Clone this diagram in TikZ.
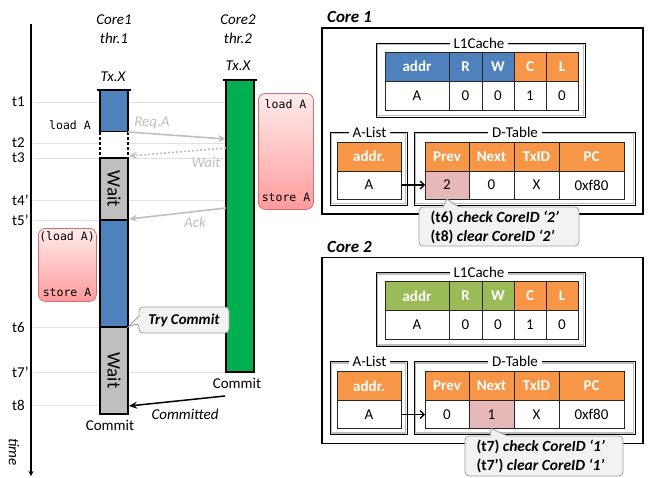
\documentclass[tikz,border=0pt]{standalone}
\usepackage{fontspec}
\setmainfont{Carlito}
\newfontfamily\codefont{DejaVu Sans Mono}
\usetikzlibrary{arrows.meta}
\definecolor{hblue}{RGB}{79,129,189}
\definecolor{hgreen}{RGB}{155,187,89}
\definecolor{horange}{RGB}{247,150,70}
\definecolor{barblue}{RGB}{79,129,189}
\definecolor{bargreen}{RGB}{0,176,80}
\definecolor{waitgray}{RGB}{191,191,191}
\definecolor{pinkcell}{RGB}{230,185,184}
\definecolor{msggray}{RGB}{191,191,191}
\definecolor{gridgray}{RGB}{225,225,225}
\definecolor{pinktop}{RGB}{255,236,236}
\definecolor{pinkbot}{RGB}{255,155,155}
\definecolor{pinkline}{RGB}{215,110,110}
\definecolor{callfill}{RGB}{242,242,242}
\definecolor{callline}{RGB}{160,160,160}
\pgfdeclareverticalshading{pinkshade}{100bp}{color(0bp)=(pinkbot); color(25bp)=(pinkbot); color(75bp)=(pinktop); color(100bp)=(pinktop)}
\newcommand\Cell[7]{\node[cell,#6,minimum width=#4pt,minimum height=#5pt] (#1) at (#2,#3) {#7};}
\newcommand\CorePanel[9]{%
\begin{scope}[shift={(0,#2)}]
\node[coretitle] (#1title) at (327,17) {#4};
\node[outerframe,minimum width=321pt,minimum height=186pt] (#1box) at (322,28) {};
\draw[frameinner] (377.5,44.5) rectangle (583.5,115.5);
\draw[frameline] (376,43) rectangle (585,117);
\node[framelabel] (#1l1lbl) at (479,43) {L1Cache};
\Cell{#1haddr}{417}{66.5}{64}{29}{fill=#3,hdr}{addr}
\Cell{#1hR}{465.5}{66.5}{33}{29}{fill=#3,hdr}{R}
\Cell{#1hW}{498}{66.5}{32}{29}{fill=#3,hdr}{W}
\Cell{#1hC}{530}{66.5}{32}{29}{fill=horange,hdr}{C}
\Cell{#1hL}{562}{66.5}{32}{29}{fill=horange,hdr}{L}
\Cell{#1daddr}{417}{95.5}{64}{29}{}{A}
\Cell{#1dR}{465.5}{95.5}{33}{29}{}{0}
\Cell{#1dW}{498}{95.5}{32}{29}{}{0}
\Cell{#1dC}{530}{95.5}{32}{29}{}{1}
\Cell{#1dL}{562}{95.5}{32}{29}{}{0}
\draw[frameinner] (331.5,133.5) rectangle (405.5,203.5);
\draw[frameline] (330,132) rectangle (407,205);
\node[framelabel] (#1allbl) at (369.5,132) {A-List};
\draw[frameinner] (415.5,133.5) rectangle (633.5,203.5);
\draw[frameline] (414,132) rectangle (635,205);
\node[framelabel] (#1dtlbl) at (515,132) {D-Table};
\Cell{#1hal}{369}{156.5}{64}{29}{fill=horange,hdr}{addr.}
\Cell{#1dal}{369}{185}{64}{28}{}{A}
\Cell{#1hprev}{447}{156.5}{44}{29}{fill=horange,hdr}{Prev}
\Cell{#1hnext}{491.5}{156.5}{45}{29}{fill=horange,hdr}{Next}
\Cell{#1htx}{536.5}{156.5}{45}{29}{fill=horange,hdr}{TxID}
\Cell{#1hpc}{591.5}{156.5}{65}{29}{fill=horange,hdr}{PC}
\Cell{#1dprev}{447}{185}{44}{28}{fill=#5}{#7}
\Cell{#1dnext}{491.5}{185}{45}{28}{fill=#6}{#8}
\Cell{#1dtx}{536.5}{185}{45}{28}{}{X}
\Cell{#1dpc}{591.5}{185}{65}{28}{}{0xf80}
\draw[ptr] (#1dal.east) -- (#1dprev.west);
#9
\end{scope}}
\begin{document}
\begin{tikzpicture}[x=1pt,y=-1pt,
  font=\fontsize{15}{18}\selectfont,
  cell/.style={draw=black!85,line width=0.8pt,inner sep=0pt,outer sep=0pt,anchor=center},
  hdr/.style={text=white,font=\fontsize{15}{18}\selectfont\bfseries},
  coretitle/.style={anchor=west,inner sep=0pt,font=\fontsize{17}{20}\selectfont\bfseries\itshape},
  outerframe/.style={draw=black,line width=1.3pt,anchor=north west,inner sep=0pt,outer sep=0pt},
  frameline/.style={draw=black,line width=0.9pt},
  frameinner/.style={draw=black!25,line width=1.2pt},
  framelabel/.style={fill=white,inner sep=4pt,inner ysep=0pt},
  ptr/.style={draw=black,line width=1.3pt,-{Straight Barb[length=4pt,width=8pt]}},
  bar/.style={draw=black,line width=1.1pt,inner sep=0pt,outer sep=0pt,anchor=north west,minimum width=28pt},
  grid/.style={draw=gridgray,line width=0.7pt},
  tlabel/.style={anchor=west,inner sep=0pt},
  msg/.style={draw=msggray,line width=1.6pt,-{Stealth[length=8pt,width=7pt]}},
  msglabel/.style={text=msggray,font=\fontsize{15}{18}\selectfont\itshape},
  code/.style={font=\fontsize{11.5}{14}\selectfont\codefont},
  pinkbox/.style={draw=pinkline,line width=0.8pt,rounded corners=7pt,shading=pinkshade},
  callout/.style={draw=callline,fill=callfill,line width=0.8pt,rounded corners=4pt},
  waittext/.style={rotate=-90,font=\fontsize{19}{22}\selectfont}]
\useasboundingbox (0,0) rectangle (651,477);
% grid lines
\draw[grid] (33,102) -- (226,102);
\draw[grid] (33,143) -- (226,143);
\draw[grid] (33,158) -- (226,158);
\draw[grid] (33,200) -- (226,200);
\draw[grid] (33,220) -- (100,220);
\draw[grid] (33,327) -- (100,327);
\draw[grid] (33,372) -- (226,372);
\draw[grid] (33,405) -- (100,405);
% time axis
\coordinate (axtop) at (31,24);
\coordinate (axbot) at (31,476);
\draw[line width=1.5pt,-{Stealth[length=5pt,width=5pt]}] (axtop) -- (axbot);
\node[rotate=-90,font=\fontsize{15}{18}\selectfont\itshape] (timelbl) at (14,452) {time};
% time labels
\node[tlabel] (t1) at (12,102) {t1};
\node[tlabel] (t2) at (12,143) {t2};
\node[tlabel] (t3) at (12,158) {t3};
\node[tlabel] (t4) at (12,200) {t4’};
\node[tlabel] (t5) at (12,220) {t5’};
\node[tlabel] (t6) at (12,327) {t6};
\node[tlabel] (t7) at (12,372) {t7’};
\node[tlabel] (t8) at (12,405) {t8};
% headers
\node[align=center,font=\fontsize{15}{19}\selectfont\itshape] (c1head) at (114,29.5) {Core1\\thr.1};
\node[align=center,font=\fontsize{15}{19}\selectfont\itshape] (c2head) at (238,29.5) {Core2\\thr.2};
\node[font=\fontsize{15}{18}\selectfont\itshape] (tx1) at (113,77) {Tx.X};
\node[font=\fontsize{15}{18}\selectfont\itshape] (tx2) at (238,66) {Tx.X};
% core1 bar
\node[bar,fill=barblue,minimum height=42pt] (b1) at (100,90) {};
\node[bar,draw=none,fill=white,minimum height=26pt] (b2) at (100,132) {};
\draw[line width=1.1pt,dash pattern=on 3pt off 2pt] (b2.north west) -- (b2.south west);
\draw[line width=1.1pt,dash pattern=on 3pt off 2pt] (b2.north east) -- (b2.south east);
\node[bar,fill=waitgray,minimum height=62pt] (b3) at (100,158) {};
\node[bar,fill=barblue,minimum height=107pt] (b4) at (100,220) {};
\node[bar,fill=waitgray,minimum height=87pt] (b5) at (100,327) {};
\node[waittext] (w1) at (b3.center) {Wait};
\node[waittext] (w2) at (b5.center) {Wait};
\draw[line width=2.2pt] ([xshift=-3pt]b1.north west) -- ([xshift=3pt]b1.north east);
\node (commit1) at (110,425) {Commit};
% core2 bar
\node[bar,fill=bargreen,minimum height=292pt] (g) at (226,80) {};
\draw[line width=2.2pt] ([xshift=-3pt]g.north west) -- ([xshift=3pt]g.north east);
\node (commit2) at (237,383) {Commit};
% load A label
\node[code] (loadA) at (70,125) {load A};
% messages
\coordinate (reqS) at (128,132);
\coordinate (reqE) at (226,139);
\draw[msg] (reqS) -- (reqE);
\node[msglabel] (reqlbl) at (152,123) {Req.A};
\coordinate (waitS) at (226,148);
\coordinate (waitE) at (129,156);
\draw[msg,dash pattern=on 2pt off 2pt] (waitS) -- (waitE);
\node[msglabel] (waitlbl) at (206,162) {Wait};
\coordinate (ackS) at (226,208);
\coordinate (ackE) at (129,219);
\draw[msg] (ackS) -- (ackE);
\node[msglabel] (acklbl) at (195,222) {Ack};
\coordinate (comS) at (225,396);
\coordinate (comE) at (129,406);
\draw[line width=1.5pt,-{Stealth[length=8pt,width=7pt]}] (comS) -- (comE);
\node[font=\fontsize{15}{18}\selectfont\itshape] (comlbl) at (185,414) {Committed};
% pink boxes
\node[pinkbox,anchor=north west,minimum width=55pt,minimum height=116pt,inner sep=0pt] (pinkR) at (258,93) {};
\node[code] (pRload) at (285.5,104) {load A};
\node[code] (pRstore) at (286,197) {store A};
\node[pinkbox,anchor=north west,minimum width=58pt,minimum height=73pt,inner sep=0pt] (pinkL) at (38,228) {};
\node[code] (pLload) at (67,237) {(load A)};
\node[code] (pLstore) at (67,292) {store A};
% try commit callout
\draw[callout] (139,316) -- (139,307) -- (229,307) -- (229,333) -- (139,333) -- (139,323) [sharp corners] -- (128,327) -- cycle;
\node[font=\fontsize{15}{18}\selectfont\bfseries\itshape] (trycommit) at (184,320) {Try Commit};
% core panels
\CorePanel{ca}{0}{hblue}{Core 1}{pinkcell}{white}{2}{0}{}
\CorePanel{cb}{229.5}{hgreen}{Core 2}{white}{pinkcell}{0}{1}{}
% callouts
\draw[callout] (443,207) -- (419,207) -- (419,246) -- (579,246) -- (579,207) -- (458,207) [sharp corners] -- (cadprev.south) -- cycle;
\node[anchor=west,align=left,font=\fontsize{15.5}{19}\selectfont\bfseries] (co1) at (427,227) {(t6) \textit{check CoreID ‘2’}\\(t8) \textit{clear CoreID ‘2’}};
\draw[callout] (490,436) -- (465,436) -- (465,476) -- (623,476) -- (623,436) -- (507,436) [sharp corners] -- (cbdnext.south) -- cycle;
\node[anchor=west,align=left,font=\fontsize{15.5}{19}\selectfont\bfseries] (co2) at (473,456.5) {(t7) \textit{check CoreID ‘1’}\\(t7’) \textit{clear CoreID ‘1’}};
\end{tikzpicture}
\end{document}
